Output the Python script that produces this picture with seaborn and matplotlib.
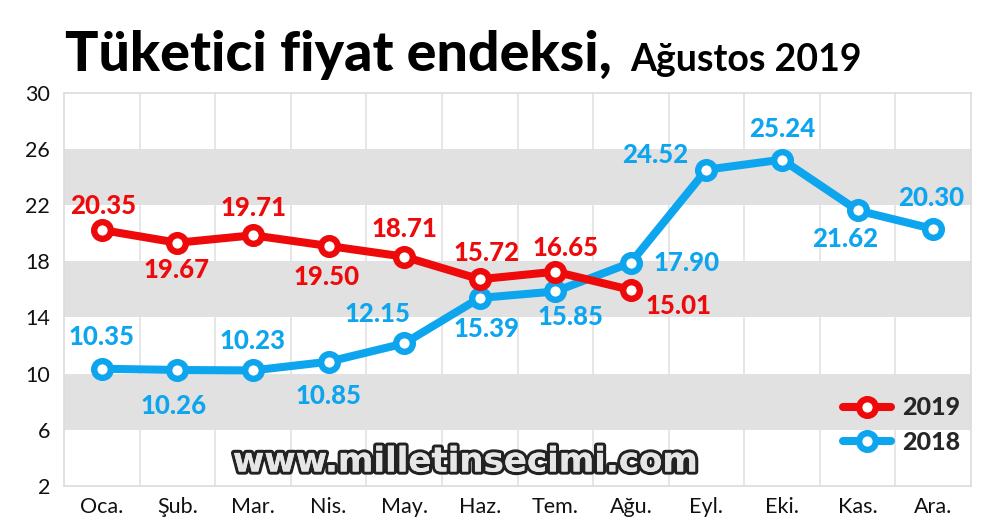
import matplotlib
matplotlib.use("Agg")
import matplotlib.pyplot as plt
import matplotlib.patheffects as pe
import seaborn as sns
import pandas as pd
import numpy as np

months = ["Oca.", "Şub.", "Mar.", "Nis.", "May.", "Haz.", "Tem.", "Ağu.", "Eyl.", "Eki.", "Kas.", "Ara."]

# plotted positions (as drawn in the reference) and their printed labels
values_2019 = [20.23, 19.32, 19.85, 19.09, 18.33, 16.72, 17.26, 15.96]
labels_2019 = ["20.35", "19.67", "19.71", "19.50", "18.71", "15.72", "16.65", "15.01"]
values_2018 = [10.35, 10.26, 10.23, 10.85, 12.15, 15.39, 15.85, 17.90, 24.52, 25.24, 21.62, 20.30]
labels_2018 = ["10.35", "10.26", "10.23", "10.85", "12.15", "15.39", "15.85", "17.90", "24.52", "25.24", "21.62", "20.30"]

yticks = [2, 6, 10, 14, 18, 22, 26, 30]

RED = "#ee0a0a"
BLUE = "#0ea5ef"

# label offsets in pixels (dx, dy), screen coords (dy positive = up)
off_2019 = [(1, 24), (-1, -27), (1, 27), (-2, -31), (0, 28), (7, 26), (10, 24), (48, -16)]
off_2018 = [(0, 32), (-4, -36), (0, 29), (0, -34), (-27, 29), (7, -31), (15, -26), (56, 0),
            (-51, 15), (0, 31), (-12, -29), (-2, 31)]

sns.set_theme(style="white")
plt.rcParams['font.family'] = ['Lato', 'DejaVu Sans']

fig = plt.figure(figsize=(10, 5.23), dpi=100)
ax = fig.add_axes([0.064, 0.0707, 0.907, 0.752])

df19 = pd.DataFrame({"idx": np.arange(len(values_2019)), "value": values_2019, "year": "2019"})
df18 = pd.DataFrame({"idx": np.arange(len(values_2018)), "value": values_2018, "year": "2018"})

# background bands
for lo in [6, 14, 22]:
    ax.axhspan(lo, lo + 4, color="#e1e1e1", zorder=0, lw=0)
for k in range(len(months) - 1):
    ax.axvline(k + 0.5, color="#e1e1e1", lw=1.2, zorder=0.5)

line_kw = dict(lw=5.8, marker="o", markersize=12, markerfacecolor="white",
               markeredgewidth=4.6)
sns.lineplot(data=df19, x="idx", y="value", color=RED, ax=ax, zorder=4,
             markeredgecolor=RED, label="2019", **line_kw)
sns.lineplot(data=df18, x="idx", y="value", color=BLUE, ax=ax, zorder=3,
             markeredgecolor=BLUE, label="2018", **line_kw)

lab_kw = dict(textcoords="offset pixels", ha="center", va="center",
              fontsize=18.5, fontweight="black", zorder=6)
for i, (v, t) in enumerate(zip(values_2019, labels_2019)):
    dx, dy = off_2019[i]
    ax.annotate(t, (i, v), xytext=(dx, dy), color=RED, **lab_kw)
for i, (v, t) in enumerate(zip(values_2018, labels_2018)):
    dx, dy = off_2018[i]
    ax.annotate(t, (i, v), xytext=(dx, dy), color=BLUE, **lab_kw)

ax.set_xlim(-0.5, len(months) - 0.5)
ax.set_ylim(2, 30)
ax.set_xticks(range(len(months)))
ax.set_xticklabels(months, fontsize=15.5, color="#111111")
ax.set_yticks(yticks)
ax.set_yticklabels([str(t) for t in yticks], fontsize=15.5, color="#111111")
ax.tick_params(axis="both", length=0)
ax.tick_params(axis="x", pad=8)
ax.tick_params(axis="y", pad=10)
ax.set_xlabel("")
ax.set_ylabel("")
for s in ax.spines.values():
    s.set_color("#dcdcdc")
    s.set_linewidth(1.2)

leg = ax.legend(loc="lower right", bbox_to_anchor=(1.013, 0.025), frameon=False,
                prop={"size": 18, "weight": "black"}, handlelength=1.9,
                handletextpad=0.45, labelspacing=0.45)

# title
fig.text(0.065, 0.865, "Tüketici fiyat endeksi,", fontsize=40, fontweight="black",
         color="black", ha="left", va="baseline")
fig.text(0.630, 0.865, "Ağustos 2019", fontsize=27, fontweight="bold",
         color="black", ha="left", va="baseline")

# watermark
ax.text(0.443, 0.061, "www.milletinsecimi.com", transform=ax.transAxes,
        ha="center", va="center", fontsize=24.5, fontweight="bold",
        family="DejaVu Sans", color="#e6e6e6", zorder=7,
        path_effects=[pe.withStroke(linewidth=4.5, foreground="#222222"),
                      pe.Normal()])

fig.savefig("out.png", dpi=100, facecolor="white")
